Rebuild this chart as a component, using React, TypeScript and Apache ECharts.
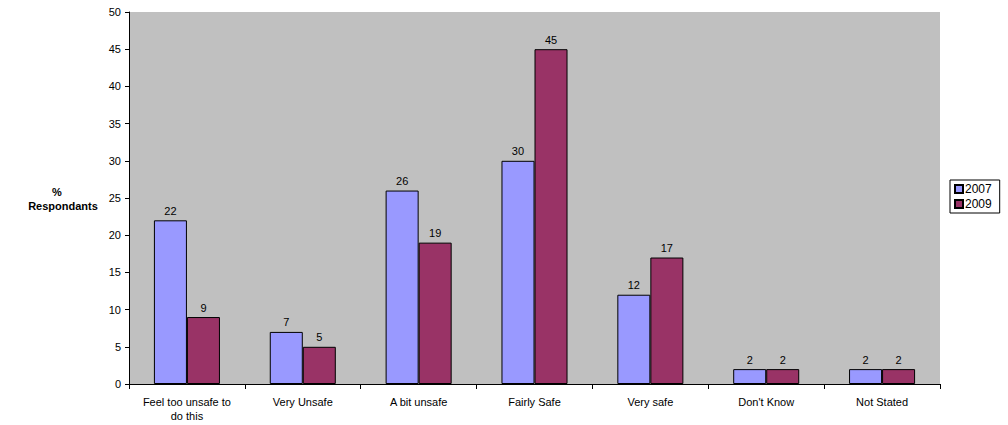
import React, { useEffect, useRef } from "react";
import * as echarts from "echarts";

const categories = [
  "Feel too unsafe to\ndo this",
  "Very Unsafe",
  "A bit unsafe",
  "Fairly Safe",
  "Very safe",
  "Don't Know",
  "Not Stated",
];
const values2007 = [22, 7, 26, 30, 12, 2, 2];
const values2009 = [9, 5, 19, 45, 17, 2, 2];
const seriesNames = ["2007", "2009"];
const colors = ["#9999FF", "#993366"];

const FONT = "Liberation Sans, Arial, sans-serif";

export default function App() {
  const ref = useRef<HTMLDivElement>(null);
  useEffect(() => {
    const chart = echarts.init(ref.current!, null, { renderer: "svg" });
    const mkSeries = (name: string, data: number[], color: string) => ({
      name,
      type: "bar",
      data,
      barWidth: "28.5%",
      barGap: "0%",
      itemStyle: { color, borderColor: "#000", borderWidth: 1 },
      label: {
        show: true,
        position: "top",
        distance: 4,
        color: "#000",
        fontSize: 11,
        fontFamily: FONT,
      },
    });
    chart.setOption({
      animation: false,
      textStyle: { fontFamily: FONT },
      grid: { left: 129, top: 12, right: 68, bottom: 41, show: true, backgroundColor: "#C0C0C0", borderWidth: 0 },
      legend: {
        orient: "vertical",
        left: 950,
        top: 180,
        data: seriesNames,
        icon: "rect",
        itemWidth: 8,
        itemHeight: 8,
        itemGap: 3,
        padding: [3, 8, 3, 4],
        borderColor: "#000",
        borderWidth: 1,
        textStyle: { fontSize: 12, color: "#000", fontFamily: FONT, padding: [0, 0, 0, -3] },
      },
      xAxis: {
        type: "category",
        data: categories,
        axisLine: { lineStyle: { color: "#000" } },
        axisTick: { show: true, length: 5, lineStyle: { color: "#000" } },
        axisLabel: { color: "#000", fontSize: 11, fontFamily: FONT, margin: 11, lineHeight: 14, interval: 0 },
      },
      yAxis: {
        type: "value",
        min: 0,
        max: 50,
        interval: 5,
        axisLine: { show: true, lineStyle: { color: "#000" } },
        axisTick: { show: true, length: 4, lineStyle: { color: "#000" } },
        axisLabel: { color: "#000", fontSize: 11, fontFamily: FONT, margin: 8 },
        splitLine: { show: false },
      },
      graphic: [
        {
          type: "text",
          x: 57,
          y: 192,
          style: {
            text: "%",
            align: "center",
            verticalAlign: "middle",
            font: "bold 11px " + FONT,
            fill: "#000",
          },
        },
        {
          type: "text",
          x: 63,
          y: 206,
          style: {
            text: "Respondants",
            align: "center",
            verticalAlign: "middle",
            font: "bold 11px " + FONT,
            fill: "#000",
          },
        },
      ],
      series: [
        mkSeries(seriesNames[0], values2007, colors[0]),
        mkSeries(seriesNames[1], values2009, colors[1]),
      ],
    });
    return () => chart.dispose();
  }, []);
  return (
    <div
      ref={ref}
      style={{ position: "fixed", left: 0, top: 0, width: 1008, height: 425, background: "#fff" }}
    />
  );
}
